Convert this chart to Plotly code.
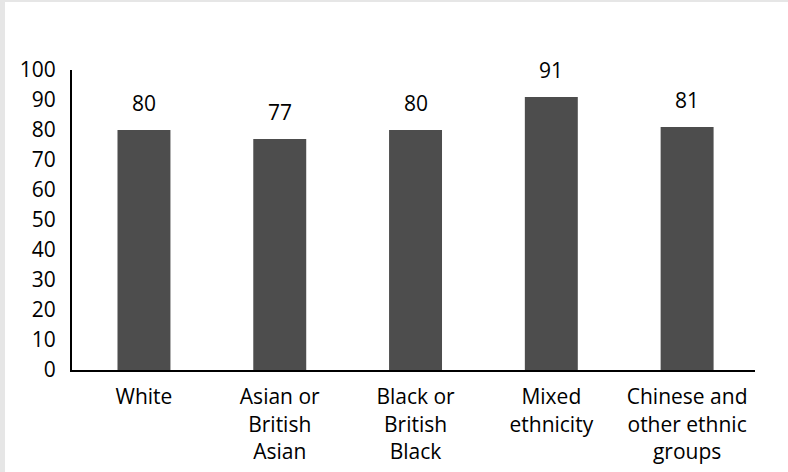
import plotly.graph_objects as go

categories = ["White", "Asian or<br>British<br>Asian", "Black or<br>British<br>Black",
              "Mixed<br>ethnicity", "Chinese and<br>other ethnic<br>groups"]
values = [80, 77, 80, 91, 81]
value_labels = ["80", "77", "80", "91", "81"]
y_ticks = [0, 10, 20, 30, 40, 50, 60, 70, 80, 90, 100]

FONT = "Open Sans"
BAR = "#4d4d4d"
FRAME = "#e6e6e6"

fig = go.Figure(go.Bar(x=categories, y=values, marker=dict(color=BAR, line=dict(width=0)),
                       width=0.39, hoverinfo="skip"))

for c, v, t in zip(categories, values, value_labels):
    fig.add_annotation(x=c, y=v, text=t, showarrow=False, yshift=27, yanchor="middle",
                       font=dict(family=FONT, size=21, color="#000000"))

fig.update_layout(
    width=788, height=472,
    margin=dict(l=72, r=33, t=70, b=102),
    paper_bgcolor="white", plot_bgcolor="white",
    showlegend=False,
    font=dict(family=FONT, size=21, color="#000000"),
    xaxis=dict(range=[-0.53, 4.5], showgrid=False, showline=True, linecolor="#000000", linewidth=2,
               ticks="", tickfont=dict(family=FONT, size=21, color="#000000"),
               ticklabelstandoff=7, zeroline=False, fixedrange=True, automargin=False),
    yaxis=dict(range=[0, 100], tickvals=y_ticks, ticktext=[str(v) for v in y_ticks],
               showgrid=False, showline=True, linecolor="#000000", linewidth=2,
               ticks="", ticklabelstandoff=10, zeroline=False, automargin=False,
               tickfont=dict(family=FONT, size=21, color="#000000"), fixedrange=True),
    shapes=[
        dict(type="rect", xref="paper", yref="paper", x0=-72/683, x1=-67/683,
             y0=-102/300, y1=370/300, fillcolor=FRAME, line=dict(width=0), layer="below"),
        dict(type="rect", xref="paper", yref="paper", x0=-72/683, x1=716/683,
             y0=368/300, y1=370/300, fillcolor=FRAME, line=dict(width=0), layer="below"),
    ],
)

fig.write_html("out.html")
